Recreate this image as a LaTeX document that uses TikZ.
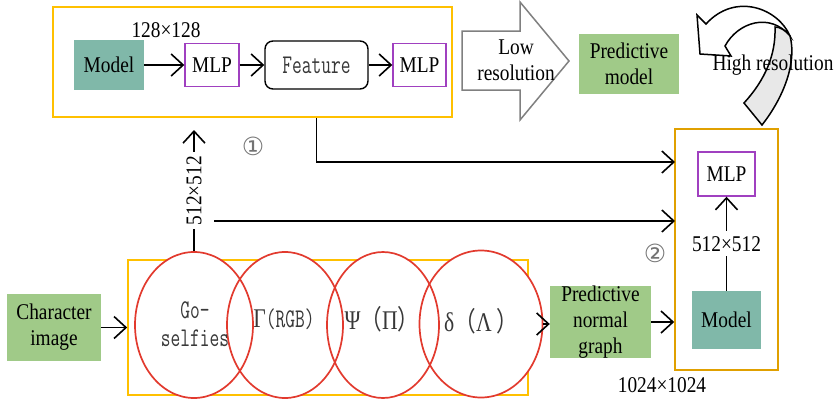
\documentclass[tikz,border=0pt]{standalone}
\usepackage{fontspec}
\setmainfont[FakeStretch=0.86]{Liberation Serif}
\setmonofont[FakeStretch=0.7]{Latin Modern Mono}
\newfontfamily\grk[FakeStretch=0.8]{Liberation Serif}
\newfontfamily\cjk[FakeStretch=0.8]{Noto Sans CJK SC}
\newfontfamily\dejavu{DejaVu Sans}
\usetikzlibrary{arrows.meta,shapes.geometric}
\definecolor{ora}{HTML}{FFC000}
\definecolor{orb}{HTML}{E0A000}
\definecolor{tealc}{HTML}{80B8A9}
\definecolor{grn}{HTML}{A0CA88}
\definecolor{pur}{HTML}{A040C0}
\definecolor{redc}{HTML}{E23A2E}
\definecolor{grayarr}{HTML}{808080}
\begin{document}
\begin{tikzpicture}[x=1pt,y=-1pt,
  txt/.style={font=\fontsize{22.5}{26}\selectfont, inner sep=0pt, align=center},
  mono/.style={font=\fontsize{27}{28}\selectfont\ttfamily, text=black!78, align=center},
  obox/.style={draw=ora, line width=1.6pt},
  obbox/.style={draw=orb, line width=1.6pt},
  tealbox/.style={txt, fill=tealc},
  grnbox/.style={txt, fill=grn},
  mlpbox/.style={txt, draw=pur, line width=1.4pt},
  ell/.style={ellipse, draw=redc, line width=1.7pt, minimum width=118pt, minimum height=146pt},
  arr/.style={-{Straight Barb[length=12pt,width=22pt]}, line width=1.6pt},
  num/.style={font=\fontsize{25}{27}\selectfont\dejavu, text=black!55, inner sep=0pt}
]
\useasboundingbox (0,0) rectangle (838,399);

% ---------- top box ----------
\node[obox, minimum width=399pt, minimum height=110pt] (topbox) at (252.5,62) {};
\node[txt] (s128) at (166,30) {128×128};
\node[tealbox, minimum width=70pt, minimum height=50pt] (m1) at (109,65) {Model};
\node[mlpbox, minimum width=54pt, minimum height=43pt] (mlp1) at (212,65) {MLP};
\node[draw, line width=1.4pt, rounded corners=8pt, minimum width=103pt, minimum height=48pt, mono] (feat) at (316.5,65) {Feature};
\node[mlpbox, minimum width=53pt, minimum height=43pt] (mlp2) at (419.5,65) {MLP};
\draw[arr] (m1) -- (mlp1);
\draw[arr] (mlp1) -- (feat);
\draw[arr] (feat) -- (mlp2);

% ---------- low resolution block arrow ----------
\draw[draw=grayarr, line width=1.5pt, fill=white]
  (462,31) -- (520,31) -- (520,2) -- (569,61) -- (520,120) -- (520,90) -- (462,90) -- cycle;
\node[txt] (lowres) at (516,60) {Low\\resolution};

% ---------- predictive model ----------
\node[grnbox, minimum width=100pt, minimum height=60pt] (pm) at (629,64) {Predictive\\model};

% ---------- curved high resolution arrow ----------
\draw[line width=1.5pt, fill=white]
  (790,36) .. controls (778,8) and (735,-8) .. (706,24) -- (697,15) -- (700,54) -- (731,56) -- (725,46)
  .. controls (738,22) and (770,12) .. (790,36) -- cycle;
\draw[line width=1.5pt, fill=gray!18]
  (744,103) -- (762,125) .. controls (784,97) and (797,62) .. (790,36)
  .. controls (785,30) and (780,27) .. (775,27)
  .. controls (776,55) and (765,80) .. (744,103) -- cycle;
\node[txt] (hires) at (773,65) {High resolution};

% ---------- right box ----------
\node[obbox, minimum width=103pt, minimum height=241pt] (rbox) at (726.5,249.5) {};
\node[mlpbox, minimum width=57pt, minimum height=44pt] (mlp3) at (726.5,174) {MLP};
\node[tealbox, minimum width=69pt, minimum height=58pt] (m3) at (726.5,320) {Model};
\draw[arr] (m3) -- node[txt, fill=white, inner sep=5pt] {512×512} (mlp3);
\node[num] (c2) at (655,253) {②};
\node[txt] (s1024) at (662,385) {1024×1024};

% ---------- connectors into right box ----------
\coordinate (in1) at (675,162);
\coordinate (in2) at (675,221);
\coordinate (s2) at (214,221);
\draw[arr] (feat.center |- topbox.south) |- (in1);
\draw[arr] (s2) -- (in2);
\node[num] (c1) at (253,146) {①};

% ---------- bottom box ----------
\node[obox, minimum width=400pt, minimum height=135pt] (bbox) at (328,327.5) {};
\fill[white] (194,325) ellipse [x radius=59, y radius=73];
\fill[white] (285,325) ellipse [x radius=58, y radius=73];
\fill[white] (383,325) ellipse [x radius=56, y radius=73];
\fill[white] (481,324) ellipse [x radius=61.5, y radius=73.5];
\node[ell] (e1) at (194,325) {};
\node[ell, minimum width=116pt] (e2) at (285,325) {};
\node[ell, minimum width=112pt] (e3) at (383,325) {};
\node[ell, minimum width=123pt, minimum height=147pt] (e4) at (481,324) {};
\node[mono, inner sep=0pt] (t1) at (195,324) {Go-\\selfies};
\node[mono, inner sep=0pt] (t2) at (284,319) {{\grk Γ}(RGB)};
\node[mono, inner sep=0pt] (t3) at (382,319) {{\grk Ψ}{\cjk （}{\grk Π}{\cjk ）}};
\node[mono, inner sep=0pt] (t4) at (481,321) {{\grk δ}{\cjk （}{\grk Λ}\,{\cjk ）}};

\coordinate (up) at (194,130);
\draw[arr] (e1.north) -- node[txt, fill=white, rotate=90, inner sep=4pt] {512×512} (up);

\node[grnbox, minimum width=94pt, minimum height=67pt] (ci) at (54,327.5) {Character\\image};
\draw[arr] (ci) -- (bbox.west);

\node[grnbox, minimum width=101pt, minimum height=72pt] (png) at (600.5,322) {Predictive\\normal\\graph};
\draw[arr] (e4.east) -- (e4.east -| png.west);
\draw[arr] (png.east) -- (png.east -| rbox.west);
\end{tikzpicture}
\end{document}
